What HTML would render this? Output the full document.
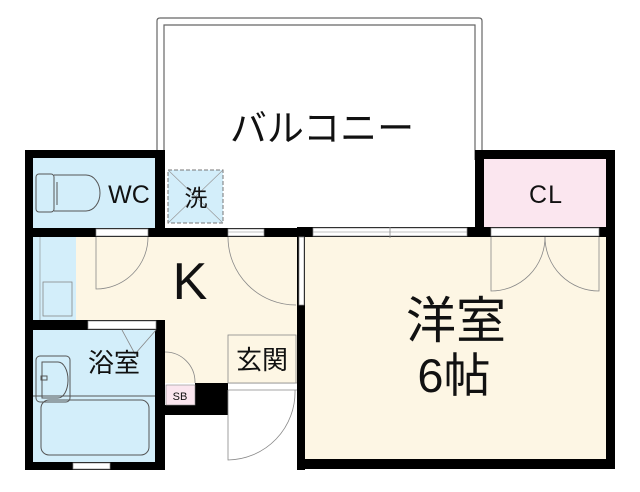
<!DOCTYPE html>
<html><head><meta charset="utf-8"><style>
html,body{margin:0;padding:0;background:#fff;width:640px;height:492px;overflow:hidden}
svg{display:block}
text{font-family:"Liberation Sans","Noto Sans CJK JP",sans-serif;fill:#111}
</style></head><body>
<svg width="640" height="492" viewBox="0 0 640 492" xmlns="http://www.w3.org/2000/svg">
<!-- balcony -->
<path d="M157,160 V21 Q157,18 160,18 H479 Q482,18 482,21 V160" fill="none" stroke="#666" stroke-width="1.2"/>
<path d="M164,160 V25 H475 V160" fill="none" stroke="#666" stroke-width="1.2"/>
<text x="322" y="141" font-size="37" text-anchor="middle">バルコニー</text>

<!-- floors -->
<rect x="33" y="158" width="122" height="70" fill="#d3eefa"/>
<rect x="33" y="237" width="264" height="83" fill="#fdf6e4"/>
<rect x="165" y="320" width="132" height="63" fill="#fdf6e4"/>
<rect x="33" y="237" width="43" height="83" fill="#d3eefa"/>
<rect x="33" y="330" width="122" height="134" fill="#d3eefa"/>
<rect x="305" y="237" width="301" height="222" fill="#fdf6e4"/>
<rect x="484" y="159" width="122" height="68" fill="#fbe6ef"/>

<!-- washer -->
<rect x="168" y="170" width="55" height="53" fill="#d3eefa" stroke="#777" stroke-dasharray="4,2"/>
<path d="M168,170 L223,223 M223,170 L168,223" stroke="#999" stroke-width="0.7"/>
<text x="196" y="206" font-size="23" text-anchor="middle">洗</text>

<!-- walls -->
<g fill="#000">
<rect x="25" y="150" width="140" height="8"/>
<rect x="25" y="150" width="8" height="320"/>
<rect x="155" y="150" width="10" height="87"/>
<rect x="25" y="228" width="280" height="9"/>
<rect x="25" y="320" width="140" height="10"/>
<rect x="155" y="320" width="10" height="150"/>
<rect x="25" y="462" width="140" height="8"/>
<rect x="165" y="405" width="63" height="10"/>
<rect x="195" y="383" width="33" height="32"/>
<rect x="297" y="228" width="8" height="242"/>
<rect x="297" y="459" width="318" height="10"/>
<rect x="606" y="150" width="9" height="319"/>
<rect x="475" y="150" width="140" height="9"/>
<rect x="475" y="150" width="9" height="87"/>
<rect x="297" y="227" width="318" height="10"/>
</g>
<!-- openings -->
<g fill="#fff" stroke="#888" stroke-width="0.7">
<rect x="96" y="229" width="52" height="7"/>
<rect x="228" y="229" width="36" height="7"/>
<rect x="313" y="228" width="154" height="8"/>
<rect x="491" y="228" width="108" height="8"/>
<rect x="88" y="321" width="68" height="8"/>
<rect x="73" y="463" width="37" height="6"/>
<rect x="299" y="237" width="5" height="68"/>
</g>
<line x1="228" y1="232" x2="264" y2="232" stroke="#888" stroke-width="0.6"/>
<line x1="313" y1="232" x2="467" y2="232" stroke="#888" stroke-width="0.6"/>
<line x1="390" y1="227" x2="390" y2="238" stroke="#888" stroke-width="0.8"/>
<!-- door arcs -->
<g fill="none" stroke="#888" stroke-width="0.8">
<path d="M96,237 V289 A52,52 0 0 0 148,237"/>
<path d="M228,237 A68,68 0 0 0 296,305"/>
<path d="M491,237 V291 A54,54 0 0 0 545,237"/>
<path d="M599,237 V291 A54,54 0 0 1 545,237"/>
<path d="M122,330 L135,354 L156,330"/>
<path d="M165,352 A30,30 0 0 1 195,382 V383"/>
<path d="M228,390 V460 A68,68 0 0 0 295,390"/>
<line x1="228" y1="390" x2="297" y2="390"/>
<line x1="228" y1="383" x2="297" y2="383"/>
</g>
<!-- kitchen sink -->
<rect x="43" y="282" width="29" height="34" fill="none" stroke="#888" stroke-width="0.8"/>
<line x1="40" y1="237" x2="40" y2="320" stroke="#888" stroke-width="0.6"/>
<!-- genkan box -->
<rect x="228" y="335" width="68" height="48" fill="#fdf6e4" stroke="#888" stroke-width="0.8"/>
<text x="262" y="369" font-size="26" text-anchor="middle">玄関</text>
<!-- SB -->
<rect x="166" y="385" width="29" height="20" fill="#fbe6ef" stroke="#888" stroke-width="0.6"/>
<text x="180" y="400" font-size="11" text-anchor="middle">SB</text>
<!-- toilet -->
<g fill="none" stroke="#555" stroke-width="1">
<rect x="36" y="174" width="18" height="38" rx="3"/>
<path d="M54,175 H86 A14,18 0 0 1 86,211 H54"/>
<line x1="57" y1="182" x2="57" y2="205"/>
</g>
<text x="129" y="203" font-size="25" text-anchor="middle">WC</text>
<!-- bath -->
<g fill="none" stroke="#555" stroke-width="1">
<rect x="36" y="356" width="34" height="46" rx="4"/>
<path d="M42,362 H58 A10,18 0 0 1 58,398 H42 Z"/>
<rect x="41" y="376" width="6" height="4"/>
<line x1="33" y1="396" x2="155" y2="396"/>
<rect x="41" y="400" width="108" height="55" rx="8"/>
</g>
<text x="114" y="372" font-size="26" text-anchor="middle">浴室</text>
<text x="190" y="299" font-size="52" text-anchor="middle">K</text>
<text x="546" y="203" font-size="25" text-anchor="middle" letter-spacing="1">CL</text>
<text x="456" y="338" font-size="50" text-anchor="middle">洋室</text>
<text x="454" y="392" font-size="47" text-anchor="middle">6帖</text>
</svg>
</body></html>
